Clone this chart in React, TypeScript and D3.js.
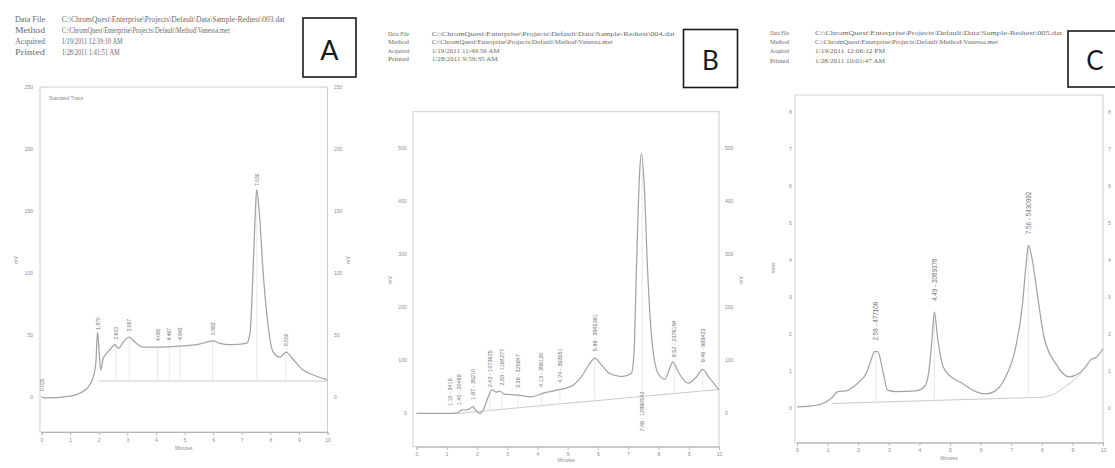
import { useEffect, useRef } from 'react';
import * as d3 from 'd3';

const xTicks = [0, 1, 2, 3, 4, 5, 6, 7, 8, 9, 10];
const headerNames = ['Data File', 'Method', 'Acquired', 'Printed'];

// Panel A
const headerA = [
  'C:\\ChromQuest\\Enterprise\\Projects\\Default\\Data\\Sample-Redtest\\003.dat',
  'C:\\ChromQuest\\Enterprise\\Projects\\Default\\Method\\Vanessa.met',
  '1/19/2011 12:39:10 AM',
  '1/28/2011 1:41:51 AM',
];
const timeA = [0, 0.1, 1.0, 1.35, 1.64, 1.81, 1.9, 1.96, 2.01, 2.07, 2.16, 2.4, 2.57, 2.69, 2.86, 3.06, 3.27, 3.56, 4.0, 4.96, 5.43, 5.78, 5.99, 6.24, 6.6, 7.17, 7.29, 7.38, 7.47, 7.52, 7.61, 7.76, 7.93, 8.1, 8.34, 8.55, 8.8, 9.15, 9.5, 10];
const signalA = [0, -1, 0.5, 3, 8, 16, 27, 52, 38, 21.5, 31, 38, 42, 39, 44, 48, 44, 40, 40, 41, 42, 44, 45, 43, 42, 43, 51, 91, 145, 167, 150, 97, 56, 36, 32, 36, 30, 21.5, 17.5, 13.5];
const baseTimeA = [2.0, 10];
const baseA = [12.6, 12.6];
const peakTimeA = [0.02, 1.97, 2.6, 3.07, 4.06, 4.47, 4.84, 5.98, 7.53, 8.55];
const peakTextA = ['0.020', '1.970', '2.603', '3.067', '4.060', '4.467', '4.843', '5.983', '7.530', '8.550'];
const yTicksA = [0, 50, 100, 150, 200, 250];

// Panel B
const headerB = [
  'C:\\ChromQuest\\Enterprise\\Projects\\Default\\Data\\Sample-Redtest\\004.dat',
  'C:\\ChromQuest\\Enterprise\\Projects\\Default\\Method\\Vanessa.met',
  '1/19/2011 11:49:56 AM',
  '1/28/2011 9:59:35 AM',
];
const timeB = [0, 0.94, 1.38, 1.47, 1.7, 1.87, 1.95, 2.09, 2.2, 2.37, 2.5, 2.64, 2.75, 2.92, 3.36, 3.78, 4.24, 4.68, 5.18, 5.45, 5.73, 5.89, 6.12, 6.39, 6.78, 7.1, 7.19, 7.27, 7.38, 7.44, 7.53, 7.64, 7.77, 7.99, 8.21, 8.37, 8.48, 8.65, 8.98, 9.26, 9.46, 9.65, 10];
const signalB = [0, 0, 1, 6, 7, 12.5, 6, 0, 5, 31, 44, 40, 42, 36, 34.5, 31, 39, 44, 53, 69, 94, 104, 91, 75, 69, 75, 113, 270, 459, 490, 428, 270, 145, 75, 64, 85, 97, 78, 57, 69, 83, 69, 44];
const baseTimeB = [1.38, 10];
const baseB = [0, 45];
const peakTimeB = [1.1, 1.4, 1.87, 2.42, 2.83, 3.36, 4.13, 4.74, 5.89, 7.46, 8.52, 9.46];
const peakTextB = ['1.10 - 3415', '1.40 - 20488', '1.87 - 35210', '2.42 - 1073625', '2.83 - 1184277', '3.36 - 325847', '4.13 - 356120', '4.74 - 392651', '5.89 - 3945381', '7.46 - 12890542', '8.52 - 2376194', '9.46 - 988423'];
const peakBelowB = [7.46];
const yTicksB = [0, 100, 200, 300, 400, 500];

// Panel C
const headerC = [
  'C:\\ChromQuest\\Enterprise\\Projects\\Default\\Data\\Sample-Redtest\\005.dat',
  'C:\\ChromQuest\\Enterprise\\Projects\\Default\\Method\\Vanessa.met',
  '1/19/2011 12:06:12 PM',
  '1/28/2011 10:01:47 AM',
];
const timeC = [0, 0.41, 0.85, 1.12, 1.34, 1.61, 1.77, 2.04, 2.26, 2.42, 2.53, 2.64, 2.8, 2.96, 3.24, 3.89, 4.16, 4.3, 4.41, 4.49, 4.59, 4.74, 4.87, 5.41, 5.84, 6.17, 6.44, 6.82, 7.15, 7.36, 7.49, 7.56, 7.69, 7.85, 8.07, 8.45, 8.88, 9.21, 9.43, 9.59, 9.8, 10];
const signalC = [0.04, 0.06, 0.13, 0.27, 0.45, 0.47, 0.54, 0.72, 0.94, 1.3, 1.53, 1.53, 1.03, 0.49, 0.45, 0.47, 0.58, 0.94, 1.84, 2.6, 1.93, 1.21, 0.99, 0.67, 0.45, 0.39, 0.45, 0.85, 1.66, 2.74, 3.91, 4.4, 4.0, 3.1, 1.93, 1.21, 0.85, 0.94, 1.12, 1.3, 1.39, 1.6];
const baseTimeC = [1.17, 8.1, 8.45, 8.99, 9.3];
const baseC = [0.13, 0.3, 0.4, 0.72, 0.94];
const peakTimeC = [2.58, 4.49, 7.56];
const peakTextC = ['2.58 - 477108', '4.49 - 2089378', '7.56 - 5430992'];
const yTicksC = [0, 1, 2, 3, 4, 5, 6, 7, 8];

const panels = [
  {
    letter: 'A', header: headerA, time: timeA, signal: signalA, baseTime: baseTimeA, base: baseA,
    peakTime: peakTimeA, peakText: peakTextA, below: [] as number[], yTicks: yTicksA, yTitle: 'mV',
    frame: { left: 40, right: 327.5, top: 87, bottom: 432 }, xRange: [41.5, 327.5], yRange: [396.7, 86.7],
    labelFont: 5, gap: 6, yLabelL: 33, yLabelR: 334, yTitles: [18, 350], yTitleY: 260,
    minutesY: 450,
    head: { nameX: 15, valX: 61.7, rows: [20, 31.3, 42.3, 53.3], font: 7.2, nameW: 30, widths: [223, 168, 61, 58] },
    box: { x: 303, y: 18, w: 53, h: 59, font: 27, base: 59.5 },
    note: 'Standard Trace',
  },
  {
    letter: 'B', header: headerB, time: timeB, signal: signalB, baseTime: baseTimeB, base: baseB,
    peakTime: peakTimeB, peakText: peakTextB, below: peakBelowB, yTicks: yTicksB, yTitle: 'mV',
    frame: { left: 413, right: 719, top: 111.7, bottom: 446.7 }, xRange: [416.5, 719], yRange: [413.3, 148.3],
    labelFont: 5.5, gap: 7, yLabelL: 406.7, yLabelR: 725, yTitles: [392, 743], yTitleY: 280,
    minutesY: 462,
    head: { nameX: 388, valX: 431.7, rows: [33.3, 41.7, 50, 58.5], font: 6.8, nameW: 21, widths: [243, 181, 68, 66] },
    box: { x: 683.5, y: 29.5, w: 54, h: 58, font: 26, base: 70 },
    note: '',
  },
  {
    letter: 'C', header: headerC, time: timeC, signal: signalC, baseTime: baseTimeC, base: baseC,
    peakTime: peakTimeC, peakText: peakTextC, below: [] as number[], yTicks: yTicksC, yTitle: 'Volts',
    frame: { left: 795, right: 1103, top: 95, bottom: 442.7 }, xRange: [797, 1103], yRange: [408.3, 111.7],
    labelFont: 6.3, gap: 11, yLabelL: 791.7, yLabelR: 1108, yTitles: [775], yTitleY: 268,
    minutesY: 460,
    head: { nameX: 770, valX: 815, rows: [32.7, 41.7, 50.7, 60], font: 6.8, nameW: 19, widths: [247, 183, 70, 70] },
    box: { x: 1068, y: 31, w: 54, h: 56, font: 26, base: 70 },
    note: '',
  },
];

type Panel = typeof panels[number];

function drawPanel(svg: d3.Selection<SVGSVGElement, unknown, null, undefined>, p: Panel) {
  const x = d3.scaleLinear().domain([0, 10]).range(p.xRange);
  const y = d3.scaleLinear().domain([0, p.yTicks[p.yTicks.length - 1]]).range(p.yRange);
  const interp = (ts: number[], vs: number[], t: number) => {
    const i = Math.max(1, Math.min(ts.length - 1, d3.bisectLeft(ts, t)));
    const k = (t - ts[i - 1]) / (ts[i] - ts[i - 1]);
    return vs[i - 1] + k * (vs[i] - vs[i - 1]);
  };
  const g = svg.append('g');

  // header block
  const h = p.head;
  headerNames.forEach((name, i) => {
    g.append('text').attr('x', h.nameX).attr('y', h.rows[i]).attr('dominant-baseline', 'central')
      .attr('font-family', 'Liberation Serif').attr('font-size', h.font).attr('fill', '#6a6a6a')
      .attr('textLength', h.nameW).attr('lengthAdjust', 'spacingAndGlyphs').text(name);
    g.append('text').attr('x', h.valX).attr('y', h.rows[i]).attr('dominant-baseline', 'central')
      .attr('font-family', 'Liberation Serif').attr('font-size', h.font).attr('fill', '#6a6a6a')
      .attr('textLength', h.widths[i]).attr('lengthAdjust', 'spacingAndGlyphs').text(p.header[i]);
  });

  // letter box
  g.append('rect').attr('x', p.box.x).attr('y', p.box.y).attr('width', p.box.w).attr('height', p.box.h)
    .attr('fill', 'white').attr('stroke', '#1a1a1a').attr('stroke-width', 1.6);
  g.append('text').attr('x', p.box.x + p.box.w / 2).attr('y', p.box.base).attr('text-anchor', 'middle')
    .attr('font-family', 'Lato, Open Sans, sans-serif').attr('font-size', p.box.font).attr('fill', '#1a1a1a')
    .text(p.letter);

  // frame
  const f = p.frame;
  g.append('rect').attr('x', f.left).attr('y', f.top).attr('width', f.right - f.left).attr('height', f.bottom - f.top)
    .attr('fill', 'none').attr('stroke', '#cfcfcf').attr('stroke-width', 1);

  if (p.note) {
    g.append('text').attr('x', f.left + 9).attr('y', f.top + 13).attr('font-family', 'Liberation Sans')
      .attr('font-size', 5).attr('fill', '#8a8a8a').text(p.note);
  }

  // x axis
  const xa = g.append('g').attr('transform', `translate(0,${f.bottom})`)
    .call(d3.axisBottom(x).tickValues(xTicks).tickSize(3).tickPadding(3).tickFormat(d3.format('d')));
  xa.select('.domain').attr('stroke', '#b5b5b5');
  xa.selectAll('line').attr('stroke', '#b5b5b5');
  xa.selectAll('text').attr('fill', '#8c8c8c').attr('font-size', 5).attr('font-family', 'Liberation Sans');
  g.append('text').attr('x', (f.left + f.right) / 2).attr('y', p.minutesY).attr('text-anchor', 'middle')
    .attr('font-family', 'Liberation Sans').attr('font-size', 5).attr('fill', '#8c8c8c').text('Minutes');

  // y labels both sides
  const ya = g.append('g').attr('transform', `translate(${p.yLabelL + 2},0)`)
    .call(d3.axisLeft(y).tickValues(p.yTicks).tickSize(0).tickPadding(2));
  ya.select('.domain').remove();
  ya.selectAll('text').attr('fill', '#8c8c8c').attr('font-size', 5).attr('font-family', 'Liberation Sans');
  const yr = g.append('g').attr('transform', `translate(${p.yLabelR - 2},0)`)
    .call(d3.axisRight(y).tickValues(p.yTicks).tickSize(0).tickPadding(2));
  yr.select('.domain').remove();
  yr.selectAll('text').attr('fill', '#8c8c8c').attr('font-size', 5).attr('font-family', 'Liberation Sans');
  p.yTitles.forEach((tx) => {
    g.append('text').attr('transform', `translate(${tx},${p.yTitleY}) rotate(-90)`).attr('text-anchor', 'middle')
      .attr('font-family', 'Liberation Sans').attr('font-size', 5).attr('fill', '#8c8c8c').text(p.yTitle);
  });

  // baseline
  const line = d3.line<number>().x((_, i) => x(p.baseTime[i])).y((d) => y(d));
  g.append('path').attr('d', line(p.base)).attr('fill', 'none').attr('stroke', '#c4c4c4').attr('stroke-width', 0.9);

  // drop lines from peaks to baseline
  p.peakTime.forEach((t) => {
    if (t < p.baseTime[0]) return;
    g.append('line').attr('x1', x(t)).attr('x2', x(t))
      .attr('y1', y(interp(p.time, p.signal, t))).attr('y2', y(interp(p.baseTime, p.base, t)))
      .attr('stroke', '#e2e2e2').attr('stroke-width', 0.8);
  });

  // trace
  const trace = d3.line<number>().x((_, i) => x(p.time[i])).y((d) => y(d)).curve(d3.curveMonotoneX);
  g.append('path').attr('d', trace(p.signal)).attr('fill', 'none').attr('stroke', '#a3a3a3').attr('stroke-width', 1.25);

  // peak labels
  p.peakTime.forEach((t, i) => {
    const below = p.below.includes(t);
    const yy = below ? y(interp(p.baseTime, p.base, t)) - 5 : y(interp(p.time, p.signal, t)) - p.gap;
    g.append('text').attr('transform', `translate(${x(t)},${yy}) rotate(-90)`)
      .attr('text-anchor', below ? 'end' : 'start').attr('dominant-baseline', 'central')
      .attr('font-family', 'Liberation Sans').attr('font-size', p.labelFont).attr('fill', '#707070')
      .text(p.peakText[i]);
  });
}

export default function App() {
  const ref = useRef<SVGSVGElement>(null);

  useEffect(() => {
    const svg = d3.select(ref.current!);
    svg.selectAll('*').remove();
    panels.forEach((p) => drawPanel(svg, p));
  }, []);

  return (
    <div style={{ position: 'absolute', left: 0, top: 0 }}>
      <svg ref={ref} width={1115} height={468} style={{ display: 'block', background: '#fff' }} />
    </div>
  );
}
